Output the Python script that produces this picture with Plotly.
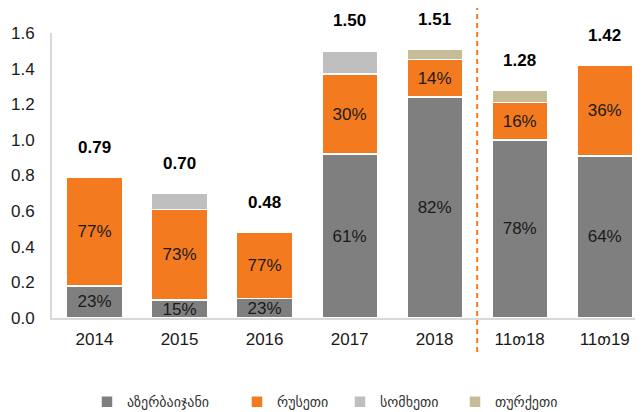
import plotly.graph_objects as go

categories = ["2014", "2015", "2016", "2017", "2018", "11თ18", "11თ19"]
azerbaijan = [0.18, 0.10, 0.11, 0.92, 1.24, 1.00, 0.91]
russia = [0.61, 0.51, 0.37, 0.45, 0.21, 0.21, 0.51]
armenia = [0.00, 0.09, 0.00, 0.13, 0.00, 0.00, 0.00]
turkey = [0.00, 0.00, 0.00, 0.00, 0.06, 0.07, 0.00]
totals = [0.79, 0.70, 0.48, 1.50, 1.51, 1.28, 1.42]
az_labels = ["23%", "15%", "23%", "61%", "82%", "78%", "64%"]
ru_labels = ["77%", "73%", "77%", "30%", "14%", "16%", "36%"]
series_names = ["აზერბაიჯანი", "რუსეთი", "სომხეთი", "თურქეთი"]
y_ticks = [0.0, 0.2, 0.4, 0.6, 0.8, 1.0, 1.2, 1.4, 1.6]

colors = ["#7f7f7f", "#f47a20", "#bfbfbf", "#c4bd97"]
font_family = "Liberation Sans, Arial, DejaVu Sans, sans-serif"
legend_ids = ["legend", "legend2", "legend3", "legend4"]
legend_x = [0.0592, 0.3130, 0.4873, 0.6819]

fig = go.Figure()
data = [azerbaijan, russia, armenia, turkey]
labels = [az_labels, ru_labels, None, None]
for name, vals, col, lab, lid in zip(series_names, data, colors, labels, legend_ids):
    fig.add_trace(go.Bar(
        x=categories, y=vals, name=name, legend=lid,
        marker=dict(color=col, line=dict(color="white", width=1.5)),
        text=lab if lab else None,
        textposition="inside" if lab else "none",
        insidetextanchor="middle",
        textfont=dict(size=17, color="#1a1a1a", family=font_family),
        hoverinfo="skip",
    ))

for i, t in enumerate(totals):
    fig.add_annotation(x=i, y=t, xref="x", yref="y", text="<b>%.2f</b>" % t,
                       showarrow=False, yanchor="middle", yshift=30,
                       font=dict(size=17, color="#000000", family=font_family))

fig.add_shape(type="line", xref="x", yref="paper", x0=4.5, x1=4.5,
              y0=-0.119, y1=1.088,
              line=dict(color="#f47a20", width=2, dash="5px,4px"))

legend_style = dict(orientation="h", y=-0.295, yanchor="middle", xanchor="left",
                    font=dict(size=14, color="#333333"), itemwidth=30,
                    bgcolor="rgba(0,0,0,0)", borderwidth=0)
layout_legends = {}
for lid, lx in zip(legend_ids, legend_x):
    layout_legends[lid] = dict(legend_style, x=lx)

fig.update_layout(
    barmode="stack",
    bargap=0.345,
    width=635, height=404,
    margin=dict(l=44, r=0, t=25, b=94, autoexpand=False),
    paper_bgcolor="white", plot_bgcolor="white",
    font=dict(family=font_family, size=16, color="#1a1a1a"),
    uniformtext=dict(minsize=17, mode="show"),
    showlegend=True,
    xaxis=dict(type="category", range=[-0.5, 6.45], showline=True, linecolor="#d9d9d9",
               linewidth=2, ticks="outside", ticklen=5, tickcolor="rgba(0,0,0,0)",
               tickfont=dict(size=17, color="#1a1a1a"), automargin=False,
               showgrid=False, fixedrange=True),
    yaxis=dict(range=[0, 1.6], tickvals=y_ticks, tickformat=".1f", showline=True,
               linecolor="#d9d9d9", linewidth=2, showgrid=False, zeroline=False,
               ticks="outside", ticklen=12, tickcolor="rgba(0,0,0,0)", automargin=False,
               tickfont=dict(size=17, color="#1a1a1a")),
    **layout_legends,
)

fig.write_html("out.html")
